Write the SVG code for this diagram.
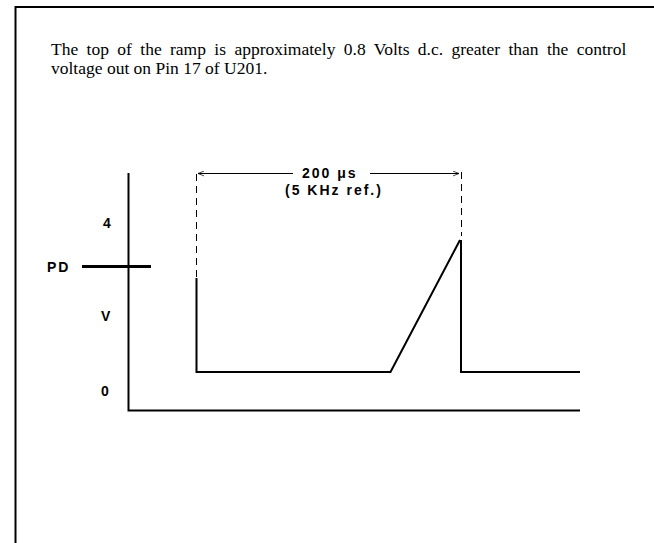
<svg xmlns="http://www.w3.org/2000/svg" width="654" height="543" viewBox="0 0 654 543">
<style>
.body{font-family:"Liberation Serif","Times New Roman",serif;font-size:17.5px;fill:#000}
.lbl{font-family:"Liberation Sans",Arial,sans-serif;font-size:14px;font-weight:bold;fill:#000;letter-spacing:2px}
.thick{stroke:#000;stroke-width:2;fill:none}
.dash{stroke:#000;stroke-width:1;fill:none;stroke-dasharray:7,5}
.thin{stroke:#000;stroke-width:1;fill:none}
</style>
<defs>
<marker id="arr" viewBox="0 0 10 10" refX="10" refY="5" markerWidth="6" markerHeight="6" orient="auto-start-reverse" markerUnits="userSpaceOnUse">
<path d="M0,1 L10,5 L0,9" fill="none" stroke="#000" stroke-width="1.2"/>
</marker>
</defs>
<rect width="654" height="543" fill="#fff"/>
<g id="frame">
<path d="M15.5,543 V7 H654" class="thick"/>
</g>
<g id="caption">
<text class="body" x="51" y="54.5" word-spacing="4">The top of the ramp is approximately 0.8 Volts d.c. greater than the control</text>
<text class="body" x="51" y="74">voltage out on Pin 17 of U201.</text>
</g>
<g id="axes">
<path d="M128.5,173 V410.5 H580" class="thick"/>
<path d="M82,266.5 H151" stroke="#000" stroke-width="3"/>
<text class="lbl" x="103" y="228">4</text>
<text class="lbl" x="47" y="272">PD</text>
<text class="lbl" x="101" y="321">V</text>
<text class="lbl" x="101" y="396">0</text>
</g>
<g id="signal">
<path d="M196.5,278 V372 H390.5 L460,240 M461,240 V372 H580" class="thick"/>
</g>
<g id="connectors">
<path d="M196.5,174 V278" class="dash"/>
<path d="M461.5,172 V236" class="dash"/>
<path d="M293,173.5 H198" class="thin" marker-end="url(#arr)"/>
<path d="M370,173.5 H459" class="thin" marker-end="url(#arr)"/>
</g>
<g id="dim-label">
<text class="lbl" x="302" y="178">200 μs</text>
<text class="lbl" x="285" y="195">(5 KHz ref.)</text>
</g>
</svg>
